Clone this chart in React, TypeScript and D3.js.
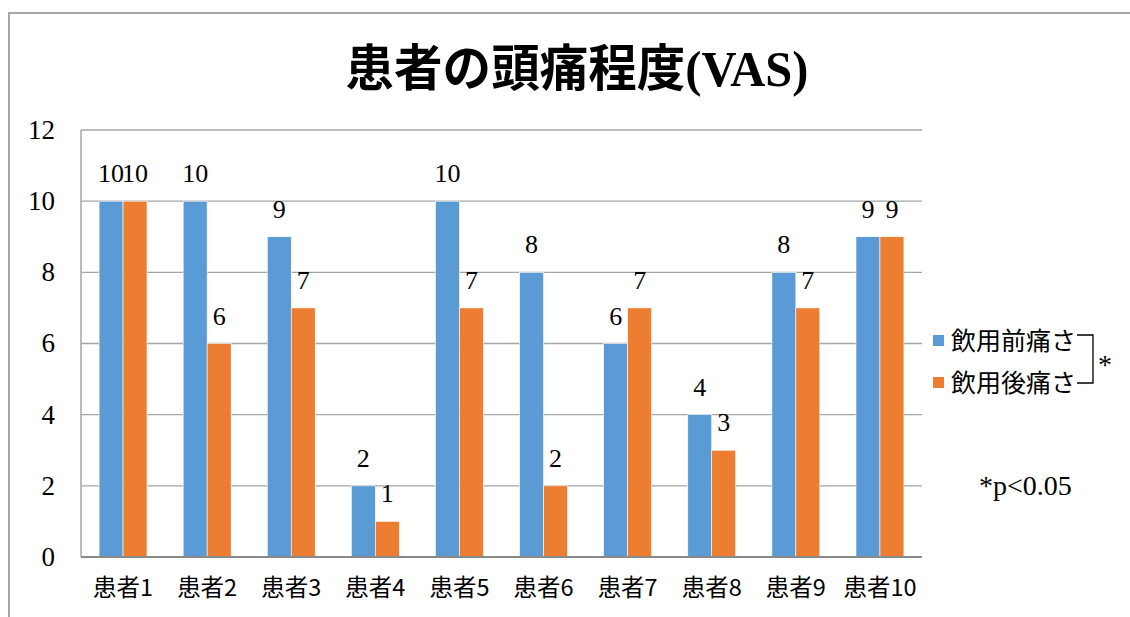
import React from "react";
import * as d3 from "d3";

const categories = ["患者1", "患者2", "患者3", "患者4", "患者5", "患者6", "患者7", "患者8", "患者9", "患者10"];
const seriesNames = ["飲用前痛さ", "飲用後痛さ"];
const before = [10, 10, 9, 2, 10, 8, 6, 4, 8, 9];
const after = [10, 6, 7, 1, 7, 2, 7, 3, 7, 9];
const yTicks = [0, 2, 4, 6, 8, 10, 12];
const colors = ["#5B9BD5", "#ED7D31"];

const W = 1130;
const H = 617;
const plot = { left: 81, right: 922, top: 130, bottom: 557 };
const serif = "Liberation Serif, DejaVu Serif, serif";
const jp = "Noto Sans CJK JP, sans-serif";

export default function App() {
  const x = d3.scaleBand<string>().domain(categories).range([plot.left, plot.right]).paddingInner(0.43).paddingOuter(0.215);
  const xs = d3.scaleBand<number>().domain([0, 1]).range([0, x.bandwidth()]);
  const y = d3.scaleLinear().domain([0, 12]).range([plot.bottom, plot.top]);
  const series = [before, after];
  const sf = { fontFamily: serif };

  return (
    <svg width={W} height={H} style={{ position: "absolute", left: 0, top: 0, background: "#fff" }}>
      <rect x={9} y={13} width={W + 20} height={H + 20} fill="#fff" stroke="#a6a6a6" strokeWidth={2} />
      <text x={577} y={86} textAnchor="middle" style={{ fontFamily: jp }} fontWeight={700} fontSize={50}
        textLength={463} lengthAdjust="spacingAndGlyphs">患者の頭痛程度<tspan style={sf}>(VAS)</tspan></text>
      {yTicks.filter((t) => t > 0).map((t) => (
        <line key={t} x1={plot.left} x2={plot.right} y1={y(t)} y2={y(t)} stroke="#a6a6a6" strokeWidth={1.3} />
      ))}
      {yTicks.map((t) => (
        <text key={t} x={55} y={y(t)} dy="0.33em" textAnchor="end" style={sf} fontSize={27}>{t}</text>
      ))}
      {series.map((vals, si) =>
        vals.map((v, i) => {
          const bx = (x(categories[i]) as number) + (xs(si) as number);
          return (
            <g key={`${si}-${i}`}>
              <rect x={bx} y={y(v)} width={xs.bandwidth()} height={y(0) - y(v)} fill={colors[si]} stroke="#fff" strokeWidth={0.6} />
              <text x={bx + xs.bandwidth() / 2} y={y(v) - 19} textAnchor="middle" style={sf} fontSize={26}>{v}</text>
            </g>
          );
        })
      )}
      <line x1={plot.left} x2={plot.left} y1={plot.top} y2={plot.bottom} stroke="#a6a6a6" strokeWidth={1.5} />
      <line x1={plot.left} x2={plot.right} y1={plot.bottom} y2={plot.bottom} stroke="#898989" strokeWidth={2} />
      {categories.map((c) => (
        <text key={c} x={(x(c) as number) + x.bandwidth() / 2} y={588} dy="0.35em" textAnchor="middle" style={{ fontFamily: jp }} fontSize={23.5}>{c}</text>
      ))}
      {seriesNames.map((s, i) => {
        const cy = 341 + i * 42;
        return (
          <g key={s}>
            <rect x={933} y={cy - 6} width={11} height={11} fill={colors[i]} />
            <text x={951} y={cy} dy="0.35em" style={{ fontFamily: jp }} fontSize={25}>{s}</text>
          </g>
        );
      })}
      <path d="M1077,335 L1093,335 L1093,383 L1077,383" fill="none" stroke="#000" strokeWidth={1.3} />
      <text x={1098} y={374} style={sf} fontSize={28}>*</text>
      <text x={979} y={495} style={sf} fontSize={28}>*p&lt;0.05</text>
    </svg>
  );
}
